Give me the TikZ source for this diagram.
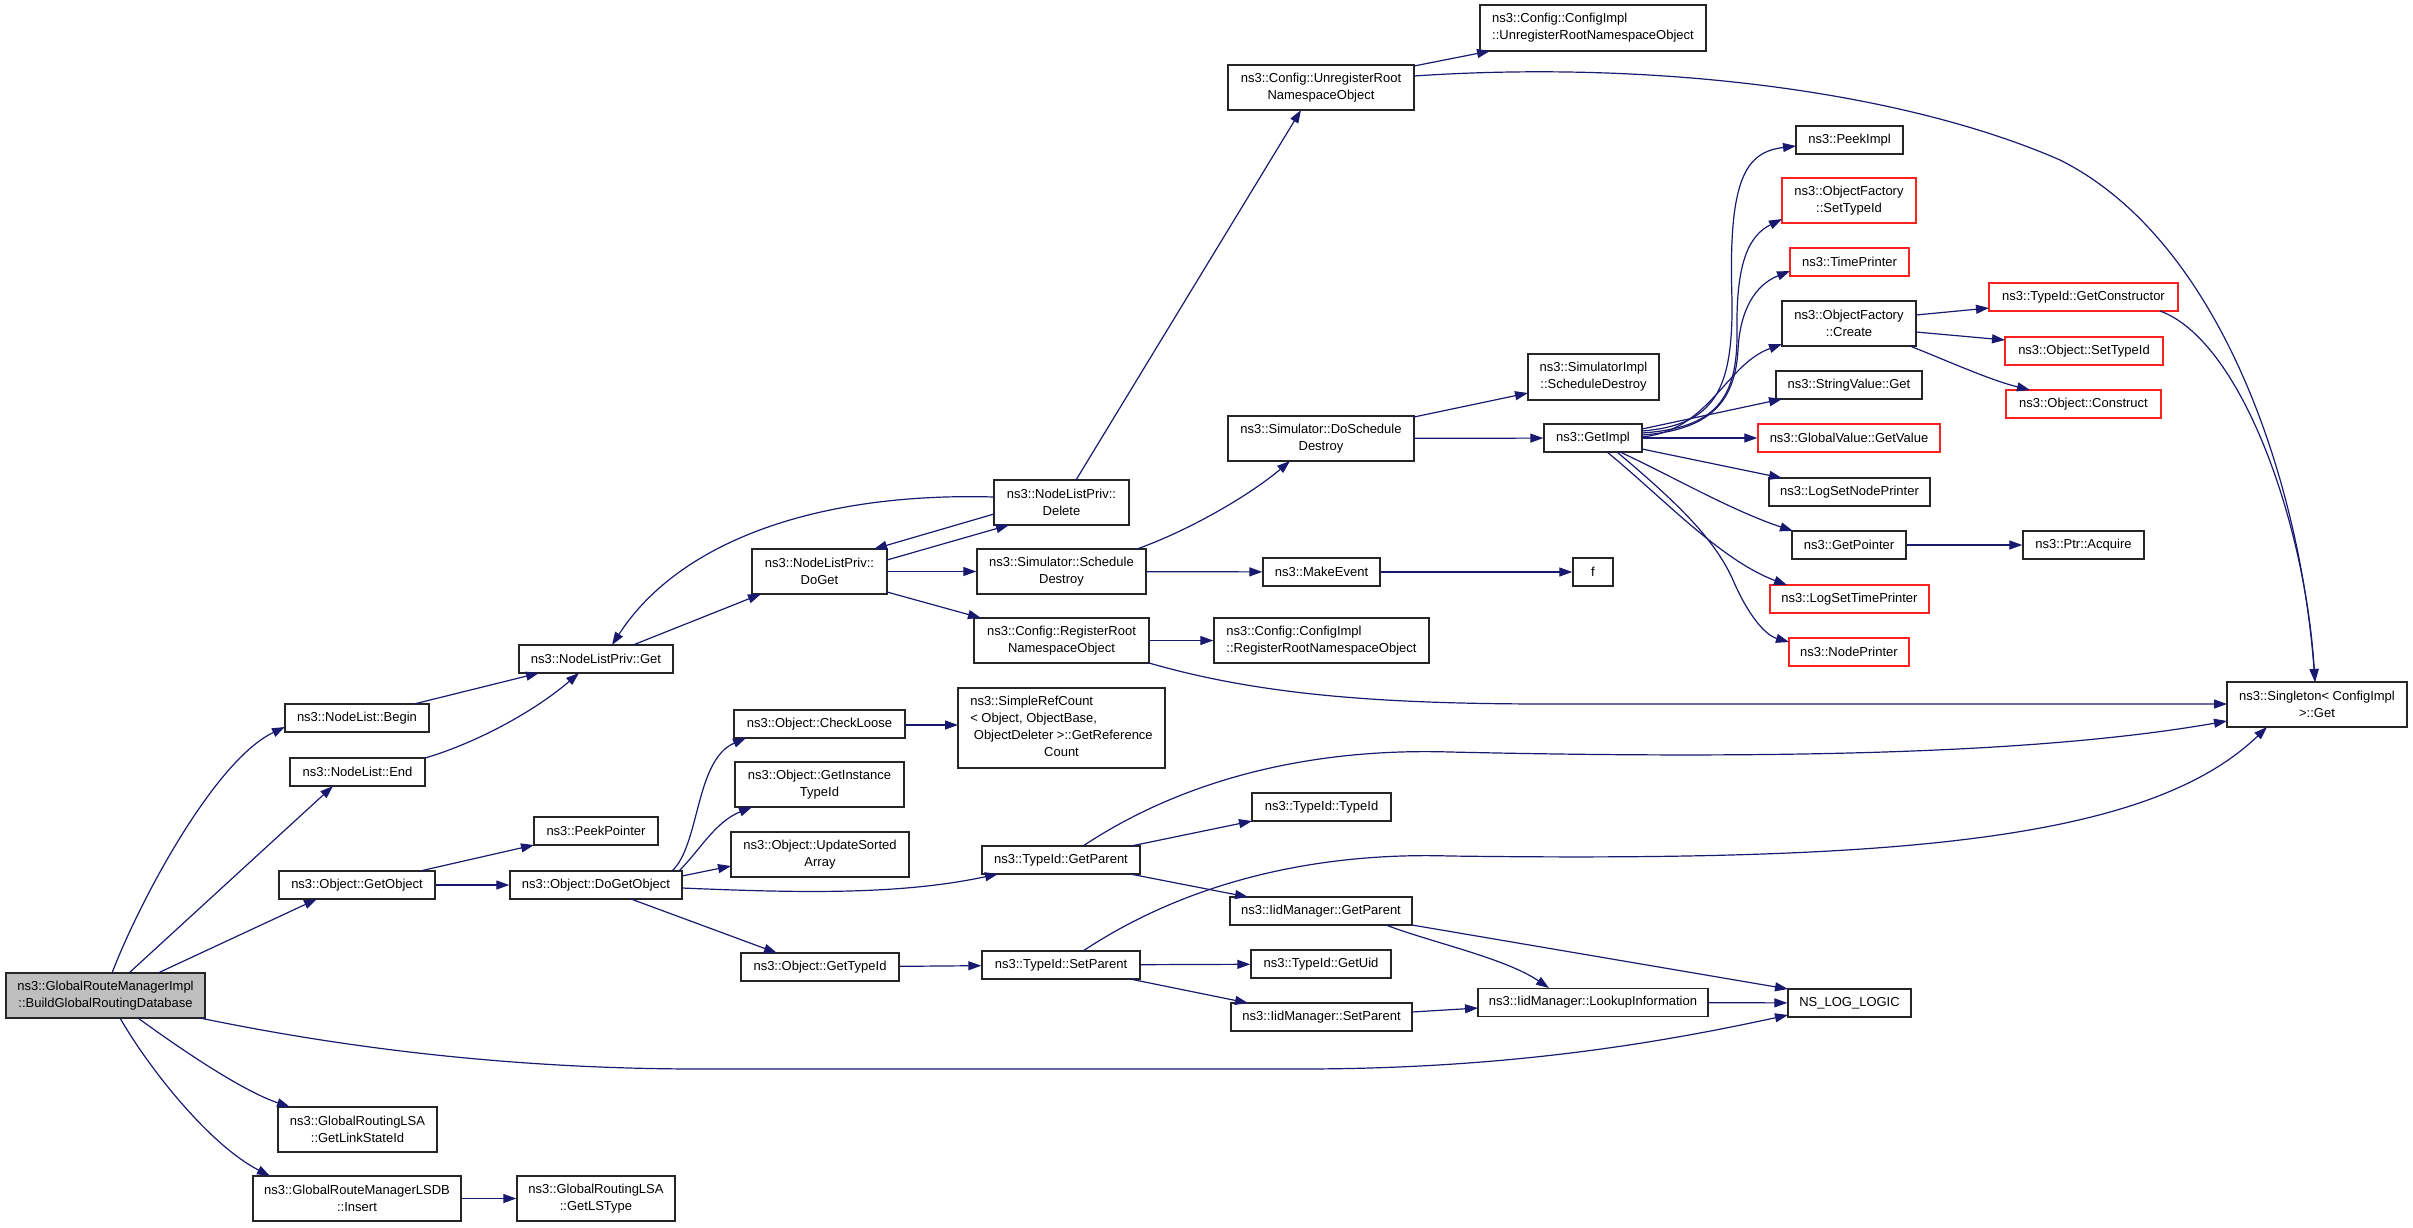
\documentclass[tikz,border=0pt]{standalone}
\usepackage{fontspec}
\setmainfont{Liberation Sans}
\usetikzlibrary{arrows.meta,calc}
\definecolor{edgeblue}{HTML}{191970}
\definecolor{boxred}{HTML}{FF2020}
\definecolor{rootgray}{HTML}{BFBFBF}
\begin{document}
\begin{tikzpicture}[x=1pt,y=-1pt,
  box/.style={draw=black!85, line width=1.4pt, fill=white, inner sep=0pt, align=center,
    font=\fontsize{13}{17}\selectfont},
  redbox/.style={box, draw=boxred},
  rootbox/.style={box, fill=rootgray},
  lbox/.style={box, align=left},
  e/.style={draw=edgeblue, line width=1.2pt, -{Triangle[length=13pt,width=9pt]}},
]
\useasboundingbox (0,0) rectangle (2413,1227);

% ---------- nodes ----------
\node[rootbox, minimum width=199pt, minimum height=45pt] (root) at (105.5,995.5) {ns3::GlobalRouteManagerImpl\\::BuildGlobalRoutingDatabase};
\node[box, minimum width=144pt, minimum height=28pt] (nlbegin) at (357,718) {ns3::NodeList::Begin};
\node[box, minimum width=135pt, minimum height=28pt] (nlend) at (357.5,772) {ns3::NodeList::End};
\node[box, minimum width=156pt, minimum height=28pt] (getobject) at (357,885) {ns3::Object::GetObject};
\node[box, minimum width=159pt, minimum height=45pt] (getlsid) at (357.5,1129.5) {ns3::GlobalRoutingLSA\\::GetLinkStateId};
\node[box, minimum width=208pt, minimum height=45pt] (insert) at (357,1198.5) {ns3::GlobalRouteManagerLSDB\\::Insert};
\node[box, minimum width=158pt, minimum height=45pt] (getlstype) at (596,1198.5) {ns3::GlobalRoutingLSA\\::GetLSType};

\node[box, minimum width=154pt, minimum height=28pt] (nlpget) at (596,659) {ns3::NodeListPriv::Get};
\node[box, minimum width=124pt, minimum height=28pt] (peekptr) at (596,831) {ns3::PeekPointer};
\node[box, minimum width=172pt, minimum height=28pt] (dogetobject) at (596,885) {ns3::Object::DoGetObject};

\node[box, minimum width=135pt, minimum height=45pt] (doget) at (819.5,571.5) {ns3::NodeListPriv::\\DoGet};
\node[box, minimum width=171pt, minimum height=28pt] (checkloose) at (819.5,724) {ns3::Object::CheckLoose};
\node[box, minimum width=169pt, minimum height=45pt] (getinst) at (819.5,784.5) {ns3::Object::GetInstance\\TypeId};
\node[box, minimum width=178pt, minimum height=45pt] (updsorted) at (820,854.5) {ns3::Object::UpdateSorted\\Array};
\node[box, minimum width=158pt, minimum height=28pt] (objgettypeid) at (820,967) {ns3::Object::GetTypeId};

\node[box, minimum width=135pt, minimum height=45pt] (delete) at (1061.5,502.5) {ns3::NodeListPriv::\\Delete};
\node[box, minimum width=169pt, minimum height=45pt] (schedd) at (1061.5,571.5) {ns3::Simulator::Schedule\\Destroy};
\node[box, minimum width=175pt, minimum height=45pt] (regroot) at (1061.5,640.5) {ns3::Config::RegisterRoot\\NamespaceObject};
\node[box, minimum width=207pt, minimum height=80pt] (simpleref) at (1061.5,728) {\begin{tabular}{@{}l@{}}ns3::SimpleRefCount\\< Object, ObjectBase,\\\ ObjectDeleter >::GetReference\\\multicolumn{1}{@{}c@{}}{Count}\end{tabular}};
\node[box, minimum width=158pt, minimum height=28pt] (tgetparent) at (1061,860) {ns3::TypeId::GetParent};
\node[box, minimum width=158pt, minimum height=28pt] (tsetparent) at (1061,965) {ns3::TypeId::SetParent};

\node[box, minimum width=186pt, minimum height=45pt] (unreg) at (1321,87.5) {ns3::Config::UnregisterRoot\\NamespaceObject};
\node[box, minimum width=186pt, minimum height=45pt] (dosched) at (1321,438.5) {ns3::Simulator::DoSchedule\\Destroy};
\node[box, minimum width=117pt, minimum height=28pt] (makeevent) at (1321.5,572) {ns3::MakeEvent};
\node[lbox, minimum width=215pt, minimum height=45pt] (cfgregroot) at (1321.5,640.5) {ns3::Config::ConfigImpl\\::RegisterRootNamespaceObject};
\node[box, minimum width=139pt, minimum height=28pt] (typeidtypeid) at (1321.5,807) {ns3::TypeId::TypeId};
\node[box, minimum width=182pt, minimum height=28pt] (iidgetparent) at (1321,911) {ns3::IidManager::GetParent};
\node[box, minimum width=140pt, minimum height=28pt] (getuid) at (1321,964) {ns3::TypeId::GetUid};
\node[box, minimum width=181pt, minimum height=28pt] (iidsetparent) at (1321.5,1017) {ns3::IidManager::SetParent};

\node[lbox, minimum width=226pt, minimum height=46pt] (cfgunreg) at (1593,28) {ns3::Config::ConfigImpl\\::UnregisterRootNamespaceObject};
\node[box, minimum width=131pt, minimum height=46pt] (simimplsd) at (1593.5,377) {ns3::SimulatorImpl\\::ScheduleDestroy};
\node[box, minimum width=98pt, minimum height=28pt] (getimpl) at (1593,438) {ns3::GetImpl};
\node[box, minimum width=40pt, minimum height=28pt] (f) at (1593,572) {f};
\node[box, minimum width=230pt, minimum height=28pt] (lookup) at (1593,1002.5) {ns3::IidManager::LookupInformation};

\node[box, minimum width=107pt, minimum height=28pt] (peekimpl) at (1849.5,140) {ns3::PeekImpl};
\node[redbox, minimum width=134pt, minimum height=45pt] (ofsettypeid) at (1849,200.5) {ns3::ObjectFactory\\::SetTypeId};
\node[redbox, minimum width=119pt, minimum height=28pt] (timeprinter) at (1849.5,262) {ns3::TimePrinter};
\node[box, minimum width=134pt, minimum height=45pt] (ofcreate) at (1849,323.5) {ns3::ObjectFactory\\::Create};
\node[box, minimum width=146pt, minimum height=28pt] (strvalget) at (1849,385) {ns3::StringValue::Get};
\node[redbox, minimum width=182pt, minimum height=28pt] (gvgetvalue) at (1849,438) {ns3::GlobalValue::GetValue};
\node[box, minimum width=161pt, minimum height=28pt] (logsetnode) at (1849.5,492) {ns3::LogSetNodePrinter};
\node[box, minimum width=114pt, minimum height=28pt] (getpointer) at (1849,545) {ns3::GetPointer};
\node[redbox, minimum width=159pt, minimum height=28pt] (logsettime) at (1849.5,599) {ns3::LogSetTimePrinter};
\node[redbox, minimum width=120pt, minimum height=28pt] (nodeprinter) at (1849,652) {ns3::NodePrinter};
\node[box, minimum width=123pt, minimum height=28pt] (nslog) at (1849.5,1003) {NS\_LOG\_LOGIC};

\node[redbox, minimum width=189pt, minimum height=28pt] (getctor) at (2083.5,297) {ns3::TypeId::GetConstructor};
\node[redbox, minimum width=158pt, minimum height=28pt] (objsettypeid) at (2084,351) {ns3::Object::SetTypeId};
\node[redbox, minimum width=155pt, minimum height=28pt] (construct) at (2083.5,404) {ns3::Object::Construct};
\node[box, minimum width=121pt, minimum height=28pt] (acquire) at (2083.5,545) {ns3::Ptr::Acquire};

\node[box, minimum width=180pt, minimum height=45pt] (singleton) at (2317,704.5) {ns3::Singleton< ConfigImpl\\>::Get};

% ---------- edges ----------
\draw[e] ($(root)+(6.5,-22.5)$) .. controls (140,900) and (215,760) .. ($(nlbegin)+(-72,9)$);
\draw[e] ($(root)+(23.5,-22.5)$) -- ($(nlend)+(-24.5,14)$);
\draw[e] ($(root)+(52.5,-22.5)$) -- ($(getobject)+(-40,14)$);
\draw[e] ($(root)+(94.5,22.5)$) .. controls (330,1045) and (500,1069) .. (700,1069) -- (1300,1069) .. controls (1500,1069) and (1650,1045) .. ($(nslog)+(-61.5,12)$);
\draw[e] ($(root)+(32.5,22.5)$) .. controls (175,1045) and (240,1090) .. ($(getlsid)+(-67.5,-22.5)$);
\draw[e] ($(root)+(14.5,22.5)$) .. controls (150,1070) and (210,1145) .. ($(insert)+(-87,-22.5)$);
\draw[e] (insert) -- (getlstype);

\draw[e] ($(nlbegin)+(57,-14)$) -- ($(nlpget)+(-57,14)$);
\draw[e] ($(nlend)+(67.5,-14)$) .. controls (470,745) and (530,715) .. ($(nlpget)+(-17,14)$);
\draw[e] ($(nlpget)+(37,-14)$) -- ($(doget)+(-58.5,22.5)$);
\draw[e] ($(doget)+(67.5,-11.5)$) -- ($(delete)+(-52.5,22.5)$);
\draw[e] ($(delete)+(-67.5,11.5)$) -- ($(doget)+(54.5,-22.5)$);
\draw[e] ($(delete)+(-67.5,-5.5)$) .. controls (820,492) and (680,540) .. ($(nlpget)+(16,-14)$);
\draw[e] ($(delete)+(14.5,-22.5)$) -- ($(unreg)+(-20,22.5)$);
\draw[e] (doget) -- (schedd);
\draw[e] ($(doget)+(67.5,20.5)$) -- ($(regroot)+(-80.5,-22.5)$);
\draw[e] ($(schedd)+(75.5,-22.5)$) .. controls (1190,530) and (1250,495) .. ($(dosched)+(-31,22.5)$);
\draw[e] (schedd) -- (makeevent);
\draw[e] (makeevent) -- (f);
\draw[e] ($(dosched)+(93,-21.5)$) -- ($(simimplsd)+(-65.5,16)$);
\draw[e] (dosched) -- (getimpl);

% GetImpl fan
\draw[e] ($(getimpl)+(49,-7)$) .. controls (1715,425) and (1733,390) .. (1732,300) .. controls (1728,180) and (1745,152) .. ($(peekimpl)+(-53.5,6)$);
\draw[e] ($(getimpl)+(49,-5)$) .. controls (1715,428) and (1738,400) .. (1737,330) .. controls (1736,260) and (1750,235) .. ($(ofsettypeid)+(-67,18.5)$);
\draw[e] ($(getimpl)+(49,-3)$) .. controls (1712,430) and (1735,400) .. (1738,350) .. controls (1740,310) and (1755,285) .. ($(timeprinter)+(-59.5,9)$);
\draw[e] ($(getimpl)+(49,-1)$) .. controls (1710,430) and (1725,365) .. ($(ofcreate)+(-67,20.5)$);
\draw[e] ($(getimpl)+(49,-9)$) -- ($(strvalget)+(-67,14)$);
\draw[e] (getimpl) -- (gvgetvalue);
\draw[e] ($(getimpl)+(49,11)$) -- ($(logsetnode)+(-67.5,-14)$);
\draw[e] ($(getimpl)+(27,14)$) .. controls (1670,475) and (1730,510) .. ($(getpointer)+(-56,-14)$);
\draw[e] ($(getimpl)+(14,14)$) .. controls (1660,495) and (1720,560) .. ($(logsettime)+(-62.5,-14)$);
\draw[e] ($(getimpl)+(24,14)$) .. controls (1680,505) and (1715,540) .. (1733,580) .. controls (1748,615) and (1765,635) .. ($(nodeprinter)+(-60,-10)$);

\draw[e] ($(ofcreate)+(67,-8.5)$) -- ($(getctor)+(-94.5,11)$);
\draw[e] ($(ofcreate)+(67,8.5)$) -- ($(objsettypeid)+(-79,-11)$);
\draw[e] ($(ofcreate)+(61,22.5)$) .. controls (1950,362) and (1990,380) .. ($(construct)+(-53.5,-14)$);
\draw[e] (getpointer) -- (acquire);

\draw[e] ($(getctor)+(76.5,14)$) .. controls (2240,340) and (2305,520) .. ($(singleton)+(-2,-22.5)$);
\draw[e] ($(unreg)+(93,-21.5)$) -- ($(cfgunreg)+(-103,23)$);
\draw[e] ($(unreg)+(93,-11.5)$) .. controls (1650,60) and (1900,90) .. (2060,160) .. controls (2220,240) and (2300,480) .. ($(singleton)+(-2,-22.5)$);
\draw[e] (regroot) -- (cfgregroot);
\draw[e] ($(regroot)+(87.5,22.5)$) .. controls (1260,695) and (1380,704) .. (1550,704) -- ($(singleton)+(-90,-0.5)$);

\draw[e] ($(getobject)+(63,-14)$) -- ($(peekptr)+(-62,14)$);
\draw[e] (getobject) -- (dogetobject);
\draw[e] ($(dogetobject)+(76,-14)$) .. controls (700,845) and (695,760) .. ($(checkloose)+(-73.5,14)$);
\draw[e] ($(dogetobject)+(83,-14)$) .. controls (700,850) and (715,822) .. ($(getinst)+(-67.5,22.5)$);
\draw[e] ($(dogetobject)+(86,-9)$) -- ($(updsorted)+(-89,11.5)$);
\draw[e] ($(dogetobject)+(86,3)$) .. controls (800,893) and (900,895) .. ($(tgetparent)+(-63,14)$);
\draw[e] ($(dogetobject)+(35,14)$) -- ($(objgettypeid)+(-43,-14)$);
\draw[e] ($(checkloose)+(85.5,1)$) -- ($(simpleref)+(-103.5,-3)$);
\draw[e] (objgettypeid) -- (tsetparent);

\draw[e] ($(tgetparent)+(22,-14)$) .. controls (1190,775) and (1320,748) .. (1450,752) .. controls (1800,760) and (2050,752) .. ($(singleton)+(-90,16.5)$);
\draw[e] ($(tgetparent)+(70,-14)$) -- ($(typeidtypeid)+(-69.5,14)$);
\draw[e] ($(tgetparent)+(69,14)$) -- ($(iidgetparent)+(-73,-14)$);
\draw[e] ($(tsetparent)+(22,-14)$) .. controls (1190,880) and (1320,852) .. (1450,856) .. controls (1900,862) and (2150,840) .. ($(singleton)+(-50,22.5)$);
\draw[e] (tsetparent) -- (getuid);
\draw[e] ($(tsetparent)+(69,14)$) -- ($(iidsetparent)+(-73.5,-14)$);

\draw[e] ($(iidgetparent)+(65,14)$) .. controls (1430,942) and (1505,958) .. ($(lookup)+(-44,-14.5)$);
\draw[e] ($(iidgetparent)+(91,14)$) -- ($(nslog)+(-61.5,-14)$);
\draw[e] ($(iidsetparent)+(90.5,-5)$) -- ($(lookup)+(-115,5.5)$);
\draw[e] (lookup) -- (nslog);
\end{tikzpicture}
\end{document}
